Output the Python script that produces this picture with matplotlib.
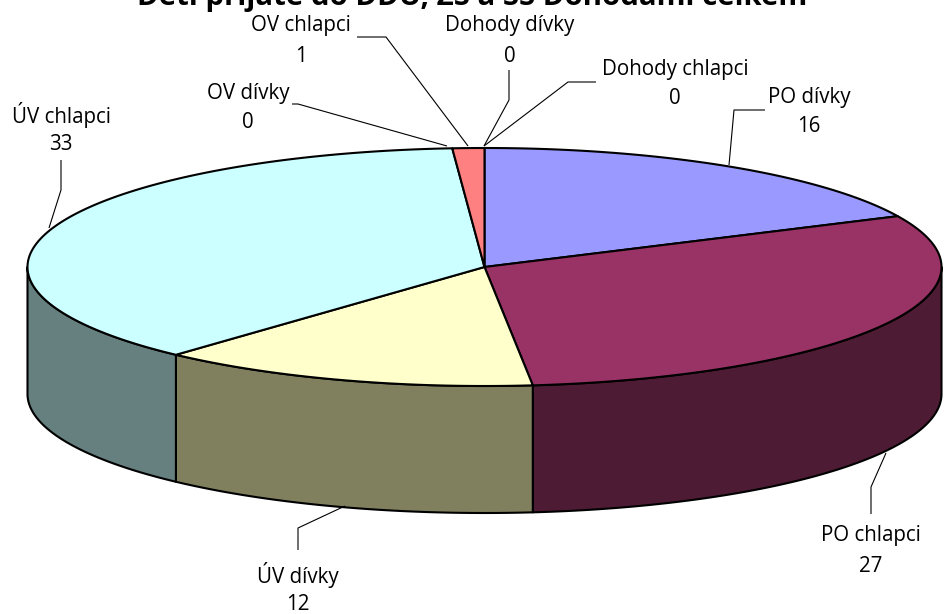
import numpy as np
import matplotlib
matplotlib.use("Agg")
import matplotlib.pyplot as plt
from matplotlib.patches import Polygon

categories = ["PO dívky", "PO chlapci", "ÚV dívky", "ÚV chlapci", "OV dívky", "OV chlapci", "Dohody dívky", "Dohody chlapci"]
values = [16, 27, 12, 33, 0, 1, 0, 0]
top_colors = ["#9999FF", "#993366", "#FFFFCC", "#CCFFFF", "#660066", "#FF8080", "#0066CC", "#CCCCFF"]
side_colors = ["#66668A", "#4D1B33", "#80805F", "#668080", "#330033", "#804040", "#003366", "#66668A"]
title = "Děti přijaté do DDÚ, ZS a SŠ Dohodami celkem"

W, H = 945, 614
CX, CY, RX, RY, DEPTH = 484.5, 267, 457, 119, 127

label_pos = [(809, 112), (871, 551), (298, 590), (61, 130), (248, 108), (301, 41), (510, 41), (675, 84)]
leaders = [
    [(729, 165), (734, 110), (765, 110)],
    [(886, 453), (871, 487), (871, 514)],
    [(345, 506), (298, 528), (298, 550)],
    [(49, 228), (61, 190), (61, 160)],
    [(447, 146), (298, 104), (292, 104)],
    [(468, 146), (386, 37), (357, 37)],
    [(484, 146), (509, 100), (509, 70)],
    [(484, 146), (568, 82), (596, 82)],
]


def pt(a, z=0.0):
    return CX + RX * np.sin(a), CY - RY * np.cos(a) + z


fig = plt.figure(figsize=(W / 100, H / 100), dpi=100)
ax = fig.add_axes([0, 0, 1, 1])
ax.set_xlim(0, W)
ax.set_ylim(H, 0)
ax.axis("off")

edges = np.concatenate([[0], np.cumsum(values)]) / np.sum(values) * 2 * np.pi
lw = 1.5

# side walls: only the part of each slice facing the viewer (pi/2 .. 3pi/2)
for i in range(len(values)):
    lo, hi = max(edges[i], np.pi / 2), min(edges[i + 1], 3 * np.pi / 2)
    if hi > lo:
        a = np.linspace(lo, hi, 120)
        x, y = pt(a)
        poly = np.r_[np.c_[x, y], np.c_[x, y + DEPTH][::-1]]
        ax.add_patch(Polygon(poly, closed=True, fc=side_colors[i], ec="black", lw=lw, joinstyle="round"))

# top faces
for i in range(len(values)):
    if values[i] > 0:
        a = np.linspace(edges[i], edges[i + 1], 240)
        x, y = pt(a)
        poly = np.r_[[[CX, CY]], np.c_[x, y]]
        ax.add_patch(Polygon(poly, closed=True, fc=top_colors[i], ec="black", lw=lw, joinstyle="round"))

# leader lines and labels
for name, val, (lx, ly), path in zip(categories, values, label_pos, leaders):
    p = np.array(path)
    ax.plot(p[:, 0], p[:, 1], color="black", lw=0.8, solid_capstyle="butt")
    ax.text(lx, ly - 15, name, ha="center", va="center", fontsize=14.8, family="Open Sans", color="black")
    ax.text(lx, ly + 15, str(val), ha="center", va="center", fontsize=14.8, family="Open Sans", color="black")

# title, cut by the top edge as in the source
ax.text(472, 4.5, title, ha="center", va="baseline", fontsize=21.2, fontweight="bold", family="Open Sans", color="black", clip_on=True)

fig.savefig("out.png", dpi=100, facecolor="white")
